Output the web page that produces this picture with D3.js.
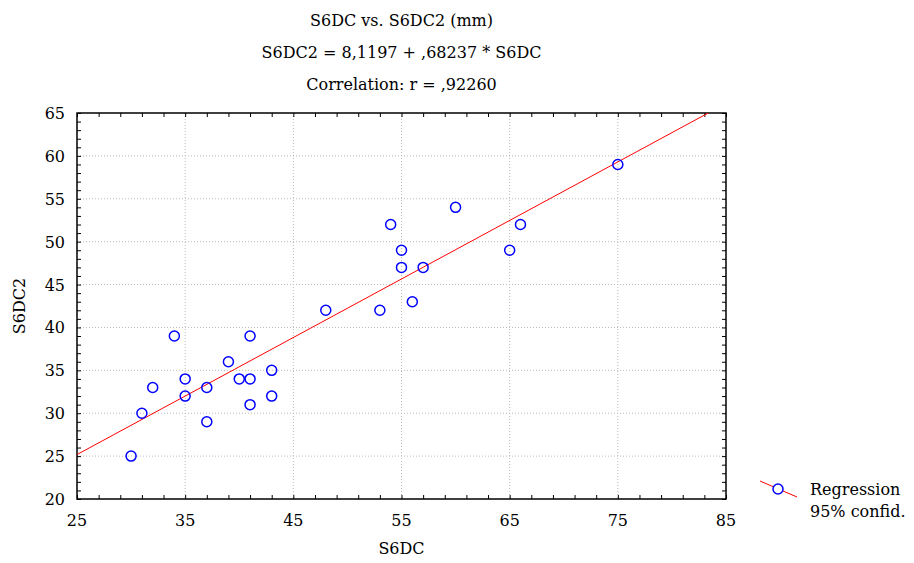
<!DOCTYPE html>
<html>
<head>
<meta charset="utf-8">
<script src="https://cdn.jsdelivr.net/npm/d3@7"></script>
<style>
body { margin: 0; background: #fff; }
text { font-family: "DejaVu Serif", serif; fill: #000; }
</style>
</head>
<body>
<svg width="914" height="563"></svg>
<script>
var width = 914,
    height = 563,
    margin = { top: 113, right: 188, bottom: 64, left: 77 }

// S6DC vs S6DC2 observations
var s6dc  = [30, 31, 32, 34, 35, 35, 37, 37, 39, 40, 41, 41, 41, 43, 43, 48, 53, 54, 55, 55, 56, 57, 60, 65, 66, 75]
var s6dc2 = [25, 30, 33, 39, 34, 32, 33, 29, 36, 34, 34, 39, 31, 35, 32, 42, 42, 52, 49, 47, 43, 47, 54, 49, 52, 59]

var intercept = 8.1197,
    slope = 0.68237

var xTicks = [25, 35, 45, 55, 65, 75, 85]
var yTicks = [20, 25, 30, 35, 40, 45, 50, 55, 60, 65]
var titleLines = ["S6DC vs. S6DC2 (mm)", "S6DC2 = 8,1197 + ,68237 * S6DC", "Correlation: r = ,92260"]
var legendLabels = ["Regression", "95% confid."]

var w = width - margin.left - margin.right,
    h = height - margin.top - margin.bottom

var x = d3.scaleLinear().domain([25, 85]).range([0, w])
var y = d3.scaleLinear().domain([20, 65]).range([h, 0])

var svg = d3.select("svg")
var g = svg.append("g").attr("transform", "translate(" + margin.left + "," + margin.top + ")")

// grid
g.selectAll(".gx").data(xTicks.slice(1, -1)).enter().append("line")
    .attr("x1", d => x(d)).attr("x2", d => x(d)).attr("y1", 0).attr("y2", h)
    .attr("stroke", "#bbb").attr("stroke-dasharray", "1,2")
g.selectAll(".gy").data(yTicks.slice(1, -1)).enter().append("line")
    .attr("y1", d => y(d)).attr("y2", d => y(d)).attr("x1", 0).attr("x2", w)
    .attr("stroke", "#bbb").attr("stroke-dasharray", "1,2")

// inward ticks on all four sides
var xMinor = d3.range(25, 85.1, 2), yMinor = d3.range(20, 65.1, 1)
function ticks(axis, scale, vals, at) {
    var a = axis(scale).tickValues(vals).tickSize(-4).tickFormat("")
    g.append("g").attr("transform", at).call(a).call(s => s.select(".domain").remove())
}
ticks(d3.axisBottom, x, xMinor, "translate(0," + h + ")")
ticks(d3.axisTop, x, xMinor, "translate(0,0)")
ticks(d3.axisLeft, y, yMinor, "translate(0,0)")
ticks(d3.axisRight, y, yMinor, "translate(" + w + ",0)")
g.selectAll(".tick line").attr("stroke", "#000")

// frame
g.append("rect").attr("width", w).attr("height", h)
    .attr("fill", "none").attr("stroke", "#000").attr("stroke-width", 1.5)

// tick labels
g.selectAll(".xl").data(xTicks).enter().append("text")
    .attr("x", d => x(d)).attr("y", h + 27).attr("text-anchor", "middle")
    .style("font-size", "16px").text(d => d)
g.selectAll(".yl").data(yTicks).enter().append("text")
    .attr("x", -12).attr("y", d => y(d) + 6).attr("text-anchor", "end")
    .style("font-size", "16px").text(d => d)

// regression line, clipped to plot
svg.append("clipPath").attr("id", "clip").append("rect").attr("width", w).attr("height", h)
var line = d3.line().x(d => x(d)).y(d => y(intercept + slope * d))
g.append("path").datum([25, 85]).attr("d", line).attr("clip-path", "url(#clip)")
    .attr("fill", "none").attr("stroke", "#f00").attr("stroke-width", 1)

// points
g.selectAll(".pt").data(s6dc).enter().append("circle")
    .attr("cx", d => x(d)).attr("cy", (d, i) => y(s6dc2[i])).attr("r", 5)
    .attr("fill", "none").attr("stroke", "#00f").attr("stroke-width", 1.5)

// titles
svg.selectAll(".title").data(titleLines).enter().append("text")
    .attr("x", margin.left + w / 2).attr("y", (d, i) => 26 + i * 32)
    .attr("text-anchor", "middle").style("font-size", "16px").text(d => d)

// axis titles
svg.append("text").attr("x", margin.left + w / 2).attr("y", 554)
    .attr("text-anchor", "middle").style("font-size", "16px").text("S6DC")
svg.append("text").attr("transform", "translate(25," + (margin.top + h / 2) + ") rotate(-90)")
    .attr("text-anchor", "middle").style("font-size", "16px").text("S6DC2")

// legend
var lg = svg.append("g").attr("transform", "translate(760,481)")
lg.append("line").attr("x1", 0).attr("y1", 0).attr("x2", 37).attr("y2", 16)
    .attr("stroke", "#f00")
lg.append("circle").attr("cx", 18).attr("cy", 8).attr("r", 5)
    .attr("fill", "#fff").attr("stroke", "#00f").attr("stroke-width", 1.5)
lg.selectAll("text").data(legendLabels).enter().append("text")
    .attr("x", 50).attr("y", (d, i) => 14 + i * 22).style("font-size", "16px").text(d => d)
</script>
</body>
</html>
